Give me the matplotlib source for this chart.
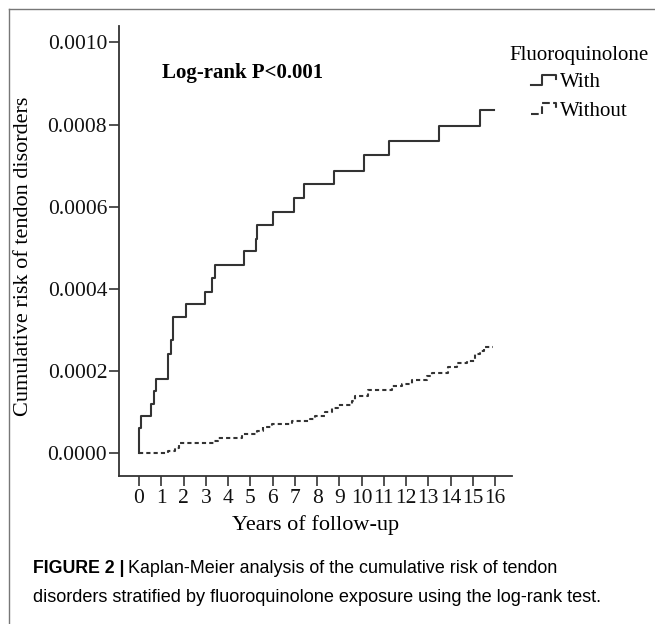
import matplotlib
matplotlib.use("Agg")
import matplotlib.pyplot as plt
from matplotlib.legend_handler import HandlerBase
from matplotlib.lines import Line2D

# Kaplan-Meier cumulative risk
years_with = [0, 0, 0.1, 0.52, 0.67, 0.78, 1.32, 1.42, 1.53, 2.11, 2.98, 3.30, 3.42,
              4.70, 5.26, 5.32, 6.04, 6.98, 7.43, 8.76, 10.1, 11.25, 13.5, 15.3, 15.96]
risk_with = [0, 0.00006, 0.000091, 0.00012, 0.00015, 0.00018, 0.00024, 0.000275,
             0.000332, 0.000362, 0.000393, 0.000426, 0.000459, 0.000492, 0.000522,
             0.000555, 0.000588, 0.000621, 0.000654, 0.000688, 0.000725, 0.00076,
             0.000797, 0.000835, 0.000835]

years_without = [0, 1.32, 1.62, 1.8, 3.38, 3.56, 4.64, 5.29, 5.56, 5.96, 6.86, 7.69,
                 7.9, 8.36, 8.66, 8.96, 9.56, 9.71, 10.31, 11.36, 11.8, 12.26, 12.93,
                 13.15, 13.9, 14.28, 14.73, 15.1, 15.33, 15.5, 15.9]
risk_without = [0, 0.0000056, 0.0000115, 0.000024, 0.00003, 0.000036, 0.000046,
                0.000053, 0.000064, 0.00007, 0.000077, 0.000082, 0.00009, 0.0001,
                0.00011, 0.000117, 0.000126, 0.000138, 0.000154, 0.000162, 0.000169,
                0.000177, 0.000187, 0.000194, 0.00021, 0.000218, 0.000225, 0.00024,
                0.000248, 0.000259, 0.000259]

x_ticks = list(range(0, 17))
y_ticks = [0.0, 0.0002, 0.0004, 0.0006, 0.0008, 0.0010]

INK = "#333333"
SERIF = "Liberation Serif"
SANS = "Liberation Sans"
FS = 15.5


class StepHandler(HandlerBase):
    """Draw a small step shape as the legend key."""

    def create_artists(self, legend, orig_handle, xdescent, ydescent,
                       width, height, fontsize, trans):
        x0, y0 = -xdescent, -ydescent
        xs = [x0, x0 + 0.45 * width, x0 + 0.45 * width, x0 + width, x0 + width]
        ys = [y0 + 0.15 * height, y0 + 0.15 * height, y0 + 0.85 * height,
              y0 + 0.85 * height, y0 + 0.55 * height]
        line = Line2D(xs, ys, color=orig_handle.get_color(),
                      linestyle=orig_handle.get_linestyle(),
                      linewidth=orig_handle.get_linewidth(), transform=trans)
        return [line]


fig = plt.figure(figsize=(6.55, 6.24), dpi=100)
ax = fig.add_axes([0.1817, 0.2372, 0.6, 0.7211])

l_with, = ax.step(years_with, risk_with, where="post", color=INK,
                  linewidth=1.5, label="With")
l_without, = ax.step(years_without, risk_without, where="post", color=INK,
                     linewidth=1.5, linestyle=(0, (2, 1.5)), label="Without")

ax.set_xlim(-0.9, 16.76)
ax.set_ylim(-0.000056, 0.00104)
ax.set_xticks(x_ticks)
ax.set_xticklabels([str(v) for v in x_ticks])
ax.set_yticks(y_ticks)
ax.set_yticklabels([f"{v:.4f}" for v in y_ticks])

for side in ("top", "right"):
    ax.spines[side].set_visible(False)
for side in ("left", "bottom"):
    ax.spines[side].set_color(INK)
    ax.spines[side].set_linewidth(1.3)

ax.tick_params(axis="both", direction="out", length=7.5, width=1.2, color=INK,
               labelsize=FS)
ax.tick_params(axis="y", pad=1)
ax.tick_params(axis="x", pad=2)
for lab in ax.get_xticklabels() + ax.get_yticklabels():
    lab.set_fontfamily(SERIF)
    lab.set_color("#111111")

ax.set_xlabel("Years of follow-up", fontsize=FS + 0.5, family=SERIF, labelpad=5)
fig.text(24 / 655, 1 - 256 / 624, "Cumulative risk of tendon disorders",
         rotation=90, fontsize=FS + 0.5, family=SERIF, ha="center", va="center")

ax.text(0.11, 0.895, "Log-rank P<0.001", transform=ax.transAxes, fontsize=15,
        family=SERIF, fontweight="bold", va="center", ha="left")

leg = ax.legend(handles=[l_with, l_without], title="Fluoroquinolone",
                handler_map={l_with: StepHandler(), l_without: StepHandler()},
                loc="upper left", bbox_to_anchor=(0.778, 0.927),
                bbox_transform=fig.transFigure, frameon=False,
                prop={"family": SERIF, "size": 15}, handlelength=1.2,
                handletextpad=0.2, labelspacing=0.42, borderaxespad=0,
                borderpad=0)
leg.get_title().set_fontfamily(SERIF)
leg.get_title().set_fontsize(15)
leg._legend_box.sep = 6

# frame lines around the panel (top and left only, as cropped)
fig.add_artist(Line2D([9 / 655, 1], [1 - 9 / 624, 1 - 9 / 624],
                      transform=fig.transFigure, color="#777777", linewidth=1))
fig.add_artist(Line2D([9 / 655, 9 / 655], [0, 1 - 9 / 624],
                      transform=fig.transFigure, color="#777777", linewidth=1))

# caption
cap_fs = 13.1
cap_x = 33 / 655
line1_y = 1 - 573 / 624
line2_y = 1 - 602 / 624
head = fig.text(cap_x, line1_y, "FIGURE 2 |", fontsize=12.8, family=SANS,
                fontweight="bold", va="baseline", ha="left")
renderer = fig.canvas.get_renderer()
bb = head.get_window_extent(renderer=renderer)
fig.text((bb.x1 + 3) / fig.bbox.width, line1_y,
         "Kaplan-Meier analysis of the cumulative risk of tendon",
         fontsize=cap_fs - 0.2, family=SANS, va="baseline", ha="left")
fig.text(cap_x, line2_y,
         "disorders stratified by fluoroquinolone exposure using the log-rank test.",
         fontsize=cap_fs, family=SANS, va="baseline", ha="left")

fig.savefig("out.png", dpi=100)
plt.close(fig)
